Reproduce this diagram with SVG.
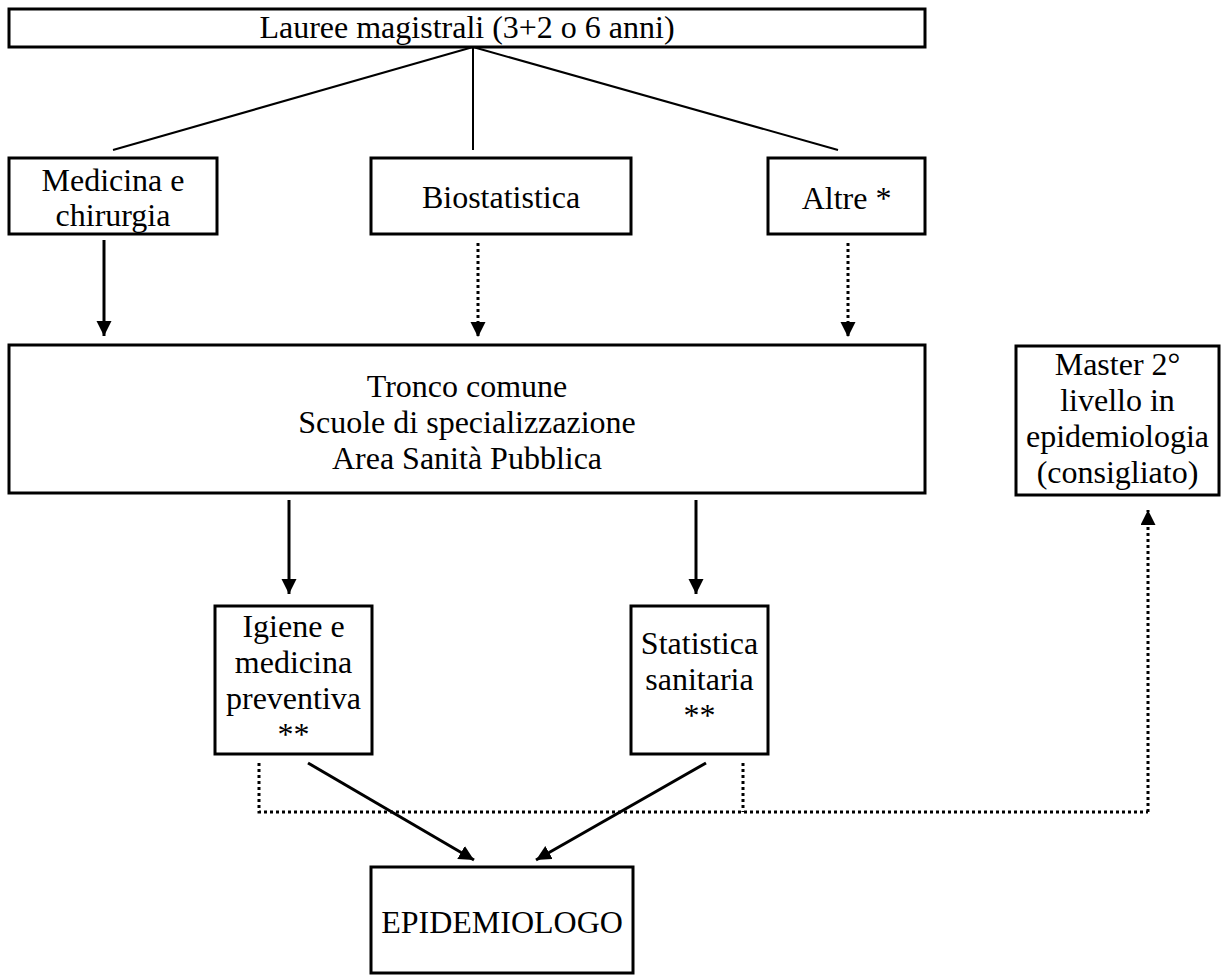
<svg xmlns="http://www.w3.org/2000/svg" width="1221" height="976" viewBox="0 0 1221 976">
<style>
.box{fill:#fff;stroke:#000;stroke-width:3}
.t{font-family:"Liberation Serif","Times New Roman",serif;font-size:32px;fill:#000;text-anchor:middle}
.thin{stroke:#000;stroke-width:2;fill:none}
.solid{stroke:#000;stroke-width:3;fill:none}
.dot{stroke:#000;stroke-width:3;fill:none;stroke-dasharray:3 3}
</style>
<defs>
<marker id="ah" markerUnits="userSpaceOnUse" markerWidth="16" markerHeight="16" refX="15" refY="7.5" orient="auto" viewBox="0 0 16 16">
<path d="M0,0 L15,7.5 L0,15 z" fill="#000"/>
</marker>
</defs>
<rect width="1221" height="976" fill="#fff"/>
<g id="connectors">
<line class="thin" x1="473" y1="47" x2="113" y2="150"/>
<line class="thin" x1="473" y1="47" x2="473" y2="150"/>
<line class="thin" x1="473" y1="47" x2="838" y2="150"/>
<line class="solid" x1="104" y1="240" x2="104" y2="336" marker-end="url(#ah)"/>
<line class="dot" x1="478" y1="243" x2="478" y2="337" marker-end="url(#ah)"/>
<line class="dot" x1="848" y1="243" x2="848" y2="337" marker-end="url(#ah)"/>
<line class="solid" x1="289" y1="500" x2="289" y2="594" marker-end="url(#ah)"/>
<line class="solid" x1="696" y1="500" x2="696" y2="594" marker-end="url(#ah)"/>
<line class="solid" x1="308" y1="763" x2="474" y2="860" marker-end="url(#ah)"/>
<line class="solid" x1="706" y1="763" x2="536" y2="860" marker-end="url(#ah)"/>
<path class="dot" d="M259,763 V812 H1148"/>
<line class="dot" x1="743" y1="763" x2="743" y2="812"/>
<line class="dot" x1="1148" y1="812" x2="1148" y2="510" marker-end="url(#ah)"/>
</g>
<g id="lauree">
<rect class="box" x="9" y="9" width="916" height="38"/>
<text class="t" x="467" y="38">Lauree magistrali (3+2 o 6 anni)</text>
</g>
<g id="medicina">
<rect class="box" x="9" y="158" width="208" height="76"/>
<text class="t" x="113" y="191">Medicina e</text>
<text class="t" x="113" y="226">chirurgia</text>
</g>
<g id="biostatistica">
<rect class="box" x="371" y="158" width="260" height="76"/>
<text class="t" x="501" y="208">Biostatistica</text>
</g>
<g id="altre">
<rect class="box" x="768" y="158" width="157" height="76"/>
<text class="t" x="846.5" y="209">Altre *</text>
</g>
<g id="tronco">
<rect class="box" x="9" y="345" width="916" height="148"/>
<text class="t" x="467" y="397">Tronco comune</text>
<text class="t" x="467" y="433">Scuole di specializzazione</text>
<text class="t" x="467" y="469">Area Sanità Pubblica</text>
</g>
<g id="master">
<rect class="box" x="1016" y="346" width="203" height="149"/>
<text class="t" x="1117.5" y="375">Master 2°</text>
<text class="t" x="1117.5" y="411">livello in</text>
<text class="t" x="1117.5" y="447">epidemiologia</text>
<text class="t" x="1117.5" y="483">(consigliato)</text>
</g>
<g id="igiene">
<rect class="box" x="215" y="606" width="157" height="148"/>
<text class="t" x="293.5" y="637">Igiene e</text>
<text class="t" x="293.5" y="673">medicina</text>
<text class="t" x="293.5" y="709">preventiva</text>
<text class="t" x="293.5" y="745">**</text>
</g>
<g id="statistica">
<rect class="box" x="631" y="606" width="137" height="148"/>
<text class="t" x="699.5" y="654">Statistica</text>
<text class="t" x="699.5" y="690">sanitaria</text>
<text class="t" x="699.5" y="726">**</text>
</g>
<g id="epidemiologo">
<rect class="box" x="371" y="867" width="262" height="106"/>
<text class="t" x="502" y="933">EPIDEMIOLOGO</text>
</g>
</svg>
